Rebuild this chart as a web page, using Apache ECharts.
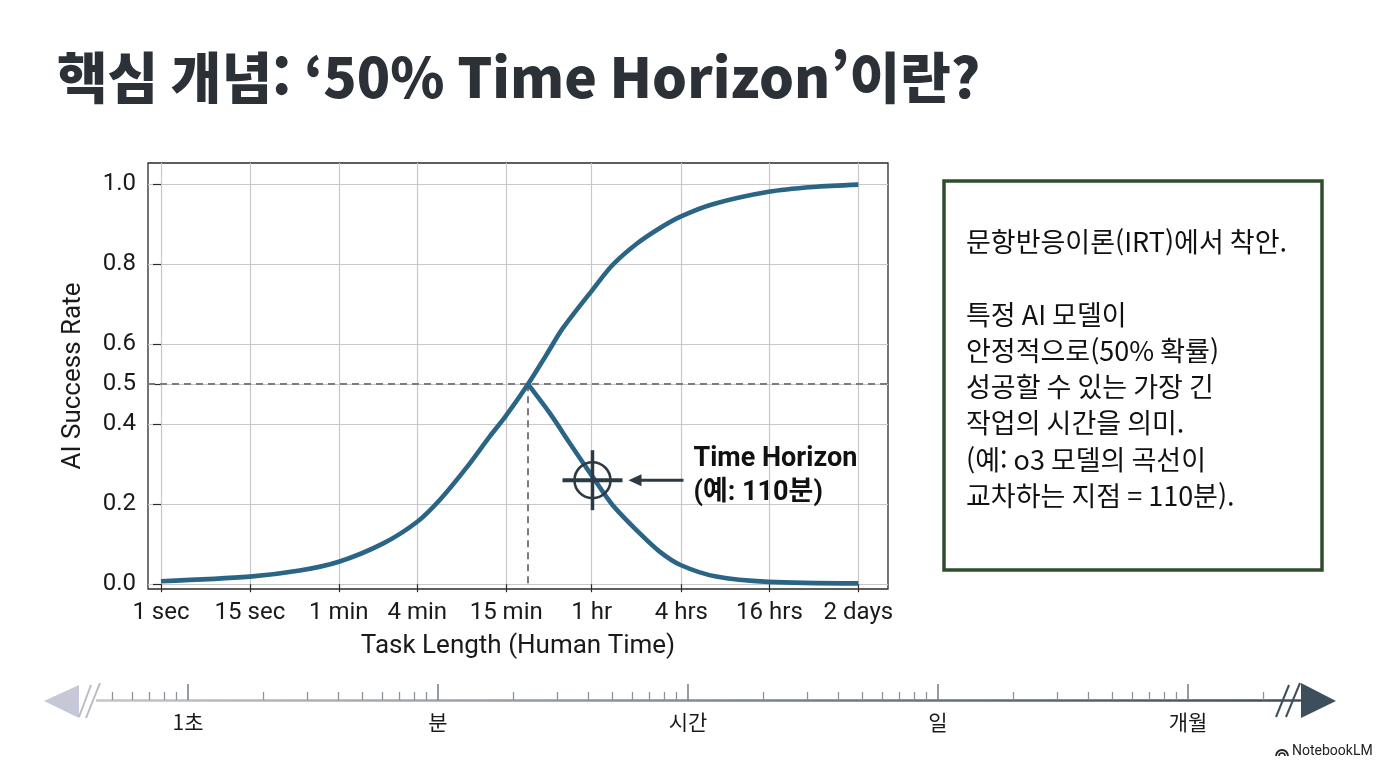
<!DOCTYPE html>
<html lang="ko">
<head>
<meta charset="UTF-8">
<title>50% Time Horizon</title>
<script src="https://cdn.jsdelivr.net/npm/echarts@6/dist/echarts.min.js"></script>
<style>
html, body { margin: 0; padding: 0; background: #fff; }
#main { width: 1376px; height: 768px; }
</style>
</head>
<body>
<div id="main"></div>
<script>
// 곡선 차트 데이터 (x = 눈금 위치, 그림에서 읽음)
var xLabels = ['1 sec', '15 sec', '1 min', '4 min', '15 min', '1 hr', '4 hrs', '16 hrs', '2 days'];
var xTicks = [0, 1.02, 2.04, 2.94, 3.96, 4.94, 5.97, 6.98, 8];
var yTicks = [0, 0.2, 0.4, 0.5, 0.6, 0.8, 1.0];
var riseX = [0, 1.02, 1.59, 2.04, 2.55, 2.94, 3.2, 3.5, 3.77, 3.95, 4.21, 4.42, 4.61, 4.95, 5.18, 5.45, 5.72, 5.96, 6.33, 6.97, 7.48, 8];
var riseY = [0.0075, 0.019, 0.034, 0.056, 0.102, 0.156, 0.211, 0.29, 0.369, 0.419, 0.5, 0.573, 0.64, 0.736, 0.798, 0.85, 0.89, 0.919, 0.95, 0.981, 0.993, 0.999];
var fallX = [4.21, 4.46, 4.69, 4.95, 5.18, 5.49, 5.72, 5.96, 6.37, 6.97, 8];
var fallY = [0.5, 0.4275, 0.3525, 0.269, 0.198, 0.1275, 0.0815, 0.048, 0.019, 0.0058, 0.002];
var horizon = [4.21, 0.5];
var marker = [4.95, 0.26];

// 아래쪽 시간 척도
var scaleNames = ['1초', '분', '시간', '일', '개월'];
var scaleMajor = [0, 1, 2, 3, 4];
var scaleSteps = [2, 3, 4, 5, 6, 7, 8, 9];

var noteLines = [
	'문항반응이론(IRT)에서 착안.',
	'',
	'특정 AI 모델이',
	'안정적으로(50% 확률)',
	'성공할 수 있는 가장 긴',
	'작업의 시간을 의미.',
	'(예: o3 모델의 곡선이',
	'교차하는 지점 = 110분).'
];

var yMin = -0.012, yMax = 1.053;
var sMin = -0.364, sMax = 4.448;

function zip(xs, ys) {
	return xs.map(function (x, i) { return [x, ys[i]]; });
}

var minorTicks = [];
for (var d = -1; d <= 4; d++) {
	scaleSteps.forEach(function (k) {
		var v = d + Math.log10(k);
		if (v > sMin && v < sMax) minorTicks.push(v);
	});
}

var curveColor = '#2b6586';
var ink = '#2c3a44';
var labelFont = 'Roboto';

var myChart = echarts.init(document.getElementById('main'));

myChart.setOption({
	backgroundColor: '#fff',
	animation: false,
	grid: [{
		left: 148, right: 488, top: 163, height: 426,
		show: true, borderColor: '#2a2a2a', borderWidth: 1.3
	}, {
		left: 97, right: 76, top: 700, height: 0
	}, {
		left: 97, right: 76, top: 700, height: 0
	}],
	xAxis: [{
		type: 'value', gridIndex: 0, min: -0.149, max: 8.34,
		name: 'Task Length (Human Time)', nameLocation: 'middle', nameGap: 44,
		nameTextStyle: { fontSize: 26, color: '#1a1a1a', fontFamily: labelFont },
		axisLine: { show: false },
		axisTick: { show: true, length: 8, customValues: xTicks, lineStyle: { color: '#2a2a2a', width: 1.2 } },
		axisLabel: {
			customValues: xTicks, margin: 12, fontSize: 24, color: '#1a1a1a', fontFamily: labelFont,
			formatter: function (v) {
				var i = xTicks.indexOf(v);
				return i >= 0 ? xLabels[i] : '';
			}
		},
		splitLine: { show: true, lineStyle: { color: '#c8c8c8', width: 1.2 } }
	}, {
		type: 'value', gridIndex: 1, min: sMin, max: sMax,
		axisLine: {
			show: true,
			lineStyle: {
				width: 2.5,
				color: new echarts.graphic.LinearGradient(0, 0, 1, 0, [
					{ offset: 0, color: '#c4c6ca' },
					{ offset: 1, color: '#3f4d58' }
				])
			}
		},
		axisTick: { show: true, inside: true, length: 8, customValues: minorTicks, lineStyle: { color: '#8f9499', width: 1.3 } },
		axisLabel: { show: false },
		splitLine: { show: false }
	}, {
		type: 'value', gridIndex: 2, min: sMin, max: sMax,
		axisLine: { show: false },
		axisTick: { show: true, inside: true, length: 16, customValues: scaleMajor, lineStyle: { color: '#7d8388', width: 1.6 } },
		axisLabel: {
			customValues: scaleMajor, margin: 12, fontSize: 21, color: '#1a1a1a',
			fontFamily: 'Noto Sans CJK KR',
			formatter: function (v) { return scaleNames[scaleMajor.indexOf(v)] || ''; }
		},
		splitLine: { show: false }
	}],
	yAxis: [{
		type: 'value', gridIndex: 0, min: yMin, max: yMax,
		name: 'AI Success Rate', nameLocation: 'middle', nameGap: 62,
		nameTextStyle: { fontSize: 26, color: '#1a1a1a', fontFamily: labelFont },
		axisLine: { show: false },
		axisTick: { show: true, length: 8, customValues: yTicks, lineStyle: { color: '#2a2a2a', width: 1.2 } },
		axisLabel: {
			customValues: yTicks, margin: 12, fontSize: 24, color: '#1a1a1a', fontFamily: labelFont,
			formatter: function (v) { return v.toFixed(1); }
		},
		splitLine: { show: true, lineStyle: { color: '#c8c8c8', width: 1.2 } }
	}, {
		type: 'value', gridIndex: 1, show: false
	}, {
		type: 'value', gridIndex: 2, show: false
	}],
	series: [{
		name: 'rise', type: 'line', xAxisIndex: 0, yAxisIndex: 0,
		data: zip(riseX, riseY), smooth: 0.3, showSymbol: false, z: 5,
		lineStyle: { color: curveColor, width: 4.6 },
		markLine: {
			silent: true, symbol: 'none', z: 3,
			label: { show: false },
			lineStyle: { color: '#7c7c7c', width: 2, type: [7, 5] },
			data: [
				{ yAxis: horizon[1] },
				[{ coord: [horizon[0], horizon[1]] }, { coord: [horizon[0], yMin] }]
			]
		}
	}, {
		name: 'fall', type: 'line', xAxisIndex: 0, yAxisIndex: 0,
		data: zip(fallX, fallY), smooth: 0.3, showSymbol: false, z: 5,
		lineStyle: { color: curveColor, width: 4.6 }
	}, {
		name: 'marker', type: 'custom', xAxisIndex: 0, yAxisIndex: 0, z: 10,
		data: [marker],
		renderItem: function (params, api) {
			var p = api.coord([api.value(0), api.value(1)]);
			return {
				type: 'group',
				children: [
					{ type: 'circle', shape: { cx: p[0], cy: p[1], r: 18 }, style: { fill: 'none', stroke: ink, lineWidth: 2.6 } },
					{ type: 'line', shape: { x1: p[0] - 30, y1: p[1], x2: p[0] + 30, y2: p[1] }, style: { stroke: ink, lineWidth: 4 } },
					{ type: 'line', shape: { x1: p[0], y1: p[1] - 30, x2: p[0], y2: p[1] + 30 }, style: { stroke: ink, lineWidth: 3.5 } },
					{ type: 'line', shape: { x1: p[0] + 46, y1: p[1], x2: p[0] + 91, y2: p[1] }, style: { stroke: ink, lineWidth: 3 } },
					{ type: 'polygon', shape: { points: [[p[0] + 36, p[1]], [p[0] + 49, p[1] - 6], [p[0] + 49, p[1] + 6]] }, style: { fill: ink } },
					{
						type: 'text', x: p[0] + 101, y: p[1] - 38,
						style: {
							text: 'Time Horizon\n(예: 110분)', fill: '#111',
							font: 'bold 27px Roboto, "Noto Sans CJK KR"', lineHeight: 34
						}
					}
				]
			};
		}
	}],
	graphic: [{
		type: 'text', x: 57, y: 77,
		style: {
			text: '핵심 개념: ‘50% Time Horizon’이란?',
			font: '900 55px "Noto Sans CJK KR"', fill: '#2b3137',
			verticalAlign: 'middle', textVerticalAlign: 'middle'
		}
	}, {
		type: 'rect', shape: { x: 944, y: 181, width: 378, height: 389 },
		style: { fill: '#fff', stroke: '#2f4d2f', lineWidth: 3.5 }
	}, {
		type: 'text', x: 966, y: 224,
		style: {
			text: noteLines.join('\n'), fill: '#111',
			font: '27px "Noto Sans CJK KR"', lineHeight: 36.2
		}
	}, {
		type: 'polygon', shape: { points: [[44, 701], [79, 685], [79, 718]] },
		style: { fill: '#c5c8d6' }
	}, {
		type: 'polygon', shape: { points: [[1336, 701], [1301, 683], [1301, 718]] },
		style: { fill: '#3e4f5c' }
	}, {
		type: 'line', shape: { x1: 79, y1: 717, x2: 91, y2: 685 }, style: { stroke: '#b9bcc4', lineWidth: 2 }
	}, {
		type: 'line', shape: { x1: 86, y1: 718, x2: 100, y2: 683 }, style: { stroke: '#b9bcc4', lineWidth: 2 }
	}, {
		type: 'line', shape: { x1: 1276, y1: 717, x2: 1289, y2: 685 }, style: { stroke: '#3e4f5c', lineWidth: 2 }
	}, {
		type: 'line', shape: { x1: 1286, y1: 717, x2: 1300, y2: 683 }, style: { stroke: '#3e4f5c', lineWidth: 2 }
	}, {
		type: 'arc', shape: { cx: 1282, cy: 756, r: 6, startAngle: Math.PI, endAngle: 2 * Math.PI },
		style: { fill: 'none', stroke: '#222', lineWidth: 1.8 }
	}, {
		type: 'arc', shape: { cx: 1282, cy: 756, r: 3, startAngle: Math.PI, endAngle: 2 * Math.PI },
		style: { fill: 'none', stroke: '#222', lineWidth: 1.5 }
	}, {
		type: 'text', x: 1292, y: 751,
		style: {
			text: 'NotebookLM', fill: '#222', font: '14px Roboto',
			verticalAlign: 'middle', textVerticalAlign: 'middle'
		}
	}]
});
</script>
</body>
</html>
